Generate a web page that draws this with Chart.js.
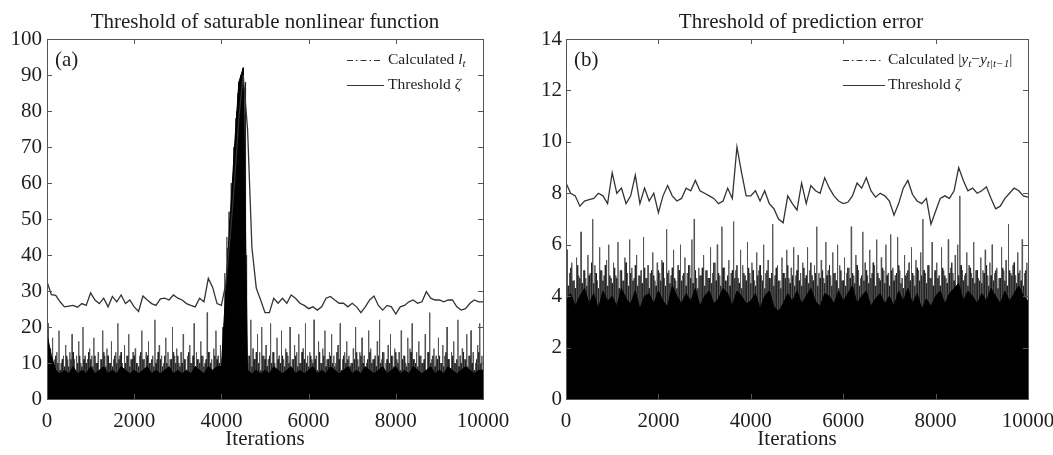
<!DOCTYPE html>
<html>
<head>
<meta charset="utf-8">
<script src="https://cdn.jsdelivr.net/npm/chart.js@4.4.0/dist/chart.umd.min.js"></script>
<style>
    html, body { margin: 0; padding: 0; background: #fff; }
    #wrap { position: relative; width: 1053px; height: 455px; }
    #boxA { position: absolute; left: 0; top: 0; width: 530px; height: 455px; }
    #boxB { position: absolute; left: 530px; top: 0; width: 523px; height: 455px; }
</style>
</head>
<body>
<div id="wrap">
    <div id="boxA"><canvas id="chartA"></canvas></div>
    <div id="boxB"><canvas id="chartB"></canvas></div>
</div>
<script>
// Iteration spacing of the sampled values
const thrStep = 100;
const spikeStep = 50;

// (a) threshold of saturable nonlinear function, one value per 100 iterations
const thresholdA = [
    32.6, 29, 28.8, 27, 25.6, 25.8, 26, 25.5, 26.5, 26,
    29.5, 27.5, 26.5, 28, 25.6, 28.5, 27, 28.9, 26.5, 27.5,
    25.6, 24.3, 28.6, 27.5, 26.5, 26, 27.8, 28, 27.5, 28.9,
    28, 27.5, 26.5, 26, 25.6, 28, 27, 33.5, 31, 26.5,
    26, 32, 45, 60, 78, 90, 75, 42, 30.8, 27.5,
    24, 24, 28, 26.6, 28, 26.6, 28.9, 28, 26.6, 26,
    25.1, 25.6, 24.7, 25.6, 28, 28.5, 27.5, 26.6, 26.6, 25.6,
    26.6, 25.6, 24, 25.6, 27.5, 28.6, 26, 24.7, 26, 25.6,
    23.6, 25.6, 26, 27, 27.5, 26.6, 27, 29.8, 28, 27.5,
    27.5, 27, 27.5, 27.5, 25.6, 24.7, 25.1, 26.6, 27.5, 27,
    27
];
// (a) top of the dense black band of calculated l_t
const bandA = [
    18, 12, 8, 7, 8, 7, 9, 7, 8, 7,
    9, 7, 8, 9, 7, 8, 7, 9, 8, 7,
    8, 7, 8, 9, 7, 8, 7, 8, 9, 7,
    8, 7, 8, 7, 9, 8, 7, 9, 8, 9,
    9, 30, 50, 70, 88, 92, 8, 7, 8, 7,
    8, 7, 9, 8, 7, 8, 9, 7, 8, 7,
    8, 9, 7, 8, 7, 9, 8, 7, 8, 9,
    7, 8, 7, 9, 8, 7, 8, 9, 7, 8,
    9, 7, 8, 7, 9, 8, 7, 8, 9, 7,
    8, 7, 9, 8, 7, 8, 9, 8, 7, 8,
    8
];
// (a) tall grey peaks of calculated l_t, at 25, 75, 125 ... iterations
const spikesA = [
    21, 14, 17, 11, 13, 19, 10, 12, 15, 11,
    13, 18, 11, 12, 16, 10, 20, 12, 11, 14,
    12, 17, 10, 13, 11, 19, 12, 14, 10, 16,
    11, 13, 21, 12, 10, 15, 12, 18, 11, 13,
    14, 10, 12, 19, 11, 13, 16, 10, 12, 22,
    11, 15, 12, 10, 17, 13, 11, 20, 12, 14,
    10, 13, 18, 11, 12, 15, 10, 21, 13, 11,
    16, 12, 10, 24, 13, 11, 14, 19, 12, 15,
    20, 35, 45, 52, 60, 70, 78, 85, 88, 90,
    86, 40, 12, 22, 14, 11, 18, 13, 20, 12,
    15, 11, 21, 13, 10, 17, 12, 19, 11, 14,
    12, 20, 11, 15, 13, 18, 10, 14, 21, 12,
    13, 11, 22, 12, 16, 10, 14, 19, 11, 13,
    18, 12, 10, 15, 21, 11, 13, 16, 12, 10,
    14, 20, 11, 13, 17, 12, 10, 19, 14, 11,
    12, 16, 22, 11, 13, 10, 15, 18, 12, 14,
    11, 13, 19, 12, 10, 17, 14, 21, 11, 13,
    16, 12, 10, 18, 13, 24, 11, 14, 12, 17,
    10, 15, 12, 20, 11, 13, 16, 10, 22, 12,
    14, 11, 18, 12, 19, 13, 10, 15, 21, 12
];
// (a) short dark peaks just above the band, at 0, 50, 100 ... iterations
const darkA = [
    20, 13, 11, 9, 12, 10, 8, 11, 9, 12,
    9, 11, 13, 8, 10, 12, 9, 11, 10, 13,
    11, 9, 12, 10, 8, 11, 13, 9, 12, 10,
    9, 12, 10, 11, 13, 8, 10, 12, 9, 11,
    12, 10, 9, 13, 11, 8, 12, 10, 11, 9,
    10, 13, 11, 9, 12, 10, 8, 11, 13, 10,
    12, 9, 10, 11, 8, 13, 10, 12, 9, 11,
    10, 12, 9, 11, 13, 10, 8, 12, 11, 10,
    10, 20, 30, 42, 50, 60, 70, 80, 88, 90,
    92, 88, 10, 12, 9, 11, 13, 10, 8, 12,
    11, 9, 12, 10, 13, 8, 11, 10, 12, 9,
    13, 10, 8, 11, 12, 9, 10, 13, 11, 10,
    9, 12, 10, 11, 8, 13, 10, 12, 9, 11,
    12, 10, 9, 13, 11, 8, 12, 10, 11, 9,
    10, 11, 13, 9, 12, 10, 8, 11, 13, 10,
    11, 9, 12, 10, 13, 8, 11, 10, 12, 9,
    13, 10, 8, 11, 12, 9, 10, 13, 11, 10,
    9, 12, 10, 11, 8, 13, 10, 12, 9, 11,
    12, 10, 9, 13, 11, 8, 12, 10, 11, 9,
    10, 13, 11, 9, 12, 10, 8, 11, 13, 10
];

// (b) threshold of prediction error
const thresholdB = [
    8.4, 8.0, 7.9, 7.5, 7.7, 7.75, 7.8, 8.0, 7.9, 7.6,
    8.8, 8.0, 8.2, 7.6, 7.9, 8.7, 7.6, 8.2, 7.7, 8.0,
    7.25, 7.9, 8.3, 7.9, 7.7, 7.8, 8.2, 8.1, 8.5, 8.1,
    8.0, 7.9, 7.8, 7.6, 7.7, 8.2, 7.8, 9.8, 8.8, 7.9,
    7.9, 8.1, 7.7, 8.1, 7.6, 7.4, 7.0, 6.85, 7.9, 7.6,
    7.35, 8.4, 7.6, 8.3, 8.1, 8.0, 8.6, 8.2, 7.9, 7.7,
    7.6, 7.65, 7.9, 8.4, 8.2, 8.6, 8.1, 7.85, 8.0, 7.9,
    7.7, 7.15, 7.6, 8.2, 8.5, 7.95, 7.7, 7.6, 7.8, 6.8,
    7.3, 7.8, 7.9, 7.8, 8.1, 9.0, 8.5, 8.1, 8.2, 8.0,
    8.1, 8.25, 7.8, 7.4, 7.5, 7.8, 8.0, 8.2, 8.1, 7.9,
    7.85
];
const bandB = [
    3.8, 4.1, 3.6, 4.0, 4.3, 3.7, 4.1, 3.5, 4.2, 3.8,
    4.0, 3.6, 4.3, 3.9, 3.7, 4.2, 3.5, 4.0, 4.1, 3.7,
    4.2, 3.8, 3.6, 4.4, 4.0, 3.7, 4.1, 3.8, 4.3, 3.6,
    4.0, 4.2, 3.7, 3.9, 4.3, 4.1, 3.6, 4.2, 4.0, 3.7,
    3.8, 4.1, 3.5, 4.0, 4.2, 3.6, 3.4, 3.7, 4.1, 3.8,
    4.2, 3.7, 4.0, 4.3, 3.8, 3.6, 4.1, 4.0, 3.7, 4.2,
    3.8, 4.1, 4.4, 3.7, 4.0, 4.2, 3.6, 3.9, 4.1, 3.7,
    4.0, 3.6, 4.2, 3.8, 4.3, 3.7, 4.1, 3.5, 3.9, 3.6,
    4.0, 4.2, 3.7, 4.1, 4.3, 4.5, 3.8, 4.2, 4.0, 3.7,
    4.1, 3.8, 4.3, 4.0, 3.7, 4.2, 3.8, 4.1, 4.4, 4.0,
    3.8
];
const spikesB = [
    5.8, 4.9, 5.3, 4.6, 5.5, 4.8, 6.5, 5.0, 4.7, 5.6,
    4.9, 7.0, 5.2, 4.6, 5.9, 5.0, 4.8, 5.4, 6.0, 4.7,
    5.3, 4.8, 6.1, 5.0, 4.6, 5.5, 4.9, 6.2, 5.1, 4.7,
    5.6, 4.8, 5.0, 6.3, 4.7, 5.2, 4.9, 5.7, 4.6, 5.3,
    4.9, 5.4, 4.7, 6.6, 5.0, 4.8, 5.8, 4.6, 5.2, 6.0,
    4.8, 5.5, 4.9, 5.2, 6.2, 7.0, 4.7, 5.1, 4.8, 5.6,
    5.0, 4.7, 5.9, 4.9, 5.3, 6.0, 4.8, 6.7, 5.1, 4.6,
    5.4, 4.9, 6.9, 5.0, 4.7, 5.8, 5.2, 4.8, 6.1, 4.9,
    5.3, 4.6, 5.7, 5.0, 4.8, 6.0, 4.9, 5.4, 4.7, 6.8,
    4.8, 5.2, 4.6, 5.5, 4.9, 5.8, 4.7, 5.1, 5.9, 4.8,
    5.6, 4.9, 5.3, 4.7, 5.9, 5.0, 4.8, 5.2, 6.7, 4.9,
    5.4, 4.7, 6.1, 5.0, 4.8, 5.7, 4.9, 6.0, 5.2, 4.6,
    5.5, 4.9, 5.1, 6.7, 4.8, 5.6, 5.0, 4.7, 6.5, 5.3,
    4.8, 5.8, 4.9, 5.2, 6.2, 4.7, 5.5, 5.0, 6.0, 4.9,
    6.4, 5.1, 4.8, 6.3, 5.0, 4.7, 5.6, 4.9, 5.3, 5.9,
    4.8, 5.4, 5.0, 5.7, 7.0, 4.9, 5.2, 4.7, 6.1, 5.0,
    5.3, 4.8, 5.9, 5.0, 4.7, 6.2, 5.1, 4.9, 5.6, 6.0,
    7.9, 5.0, 4.8, 5.7, 5.2, 4.9, 6.1, 5.0, 4.7, 5.5,
    5.0, 5.8, 4.8, 5.3, 6.0, 4.9, 5.1, 4.7, 5.9, 5.0,
    5.4, 6.8, 4.9, 5.2, 4.8, 5.7, 5.0, 6.2, 4.9, 5.3
];
const darkB = [
    4.9, 4.4, 5.1, 4.6, 4.3, 5.2, 4.7, 4.5, 5.0, 4.4,
    4.8, 5.3, 4.5, 4.9, 4.3, 5.0, 4.6, 5.2, 4.4, 4.8,
    4.5, 5.1, 4.7, 4.3, 5.0, 4.6, 5.3, 4.4, 4.9, 4.6,
    5.2, 4.4, 4.8, 4.5, 5.1, 4.7, 4.3, 5.0, 4.8, 4.4,
    5.0, 4.6, 5.3, 4.4, 4.9, 4.5, 5.1, 4.7, 4.3, 5.0,
    4.6, 4.9, 4.4, 5.2, 4.7, 4.5, 5.0, 4.3, 4.8, 5.1,
    4.4, 5.0, 4.7, 4.5, 5.3, 4.6, 4.9, 4.4, 5.1, 4.6,
    4.8, 4.4, 5.0, 4.7, 5.2, 4.5, 4.3, 4.9, 4.6, 5.1,
    4.5, 5.0, 4.4, 4.8, 5.2, 4.6, 4.3, 5.0, 4.7, 4.9,
    4.4, 5.1, 4.6, 4.3, 4.9, 4.7, 5.2, 4.5, 4.8, 4.4,
    5.0, 4.6, 4.4, 5.1, 4.8, 4.5, 5.3, 4.6, 4.9, 4.4,
    4.7, 5.0, 4.5, 4.8, 5.2, 4.4, 4.9, 4.6, 4.3, 5.0,
    4.6, 4.4, 5.1, 4.7, 4.9, 4.5, 5.2, 4.4, 4.8, 4.6,
    5.0, 4.5, 4.7, 5.3, 4.4, 4.9, 4.6, 5.1, 4.5, 4.8,
    4.4, 5.0, 4.6, 4.9, 5.2, 4.5, 4.3, 4.8, 5.0, 4.6,
    4.9, 4.4, 5.1, 4.6, 4.8, 5.0, 4.5, 5.2, 4.7, 4.4,
    5.0, 4.7, 4.4, 5.1, 4.8, 4.5, 4.9, 5.3, 4.6, 4.4,
    4.8, 5.2, 4.6, 4.9, 4.4, 5.1, 4.7, 4.5, 5.0, 4.6,
    4.5, 4.9, 5.2, 4.4, 4.8, 4.6, 5.0, 4.3, 4.7, 5.1,
    4.6, 4.4, 5.0, 4.8, 5.3, 4.5, 4.9, 4.6, 4.4, 5.0
];

const xTicks = [0, 2000, 4000, 6000, 8000, 10000];
const serif = '"Liberation Serif", "Times New Roman", serif';
const ink = '#1e1e1e';

function toPoints(values, step) {
    return values.map((v, i) => ({ x: i * step, y: v }));
}

// narrow peaks: base, top, base for each value
function spikePoints(values, step, offset) {
    const pts = [];
    values.forEach((v, i) => {
        const xi = offset + i * step;
        pts.push({ x: xi - 7, y: 0 }, { x: xi, y: v }, { x: xi + 7, y: 0 });
    });
    return pts;
}

// text with italic / subscript pieces, drawn left to right
function drawRich(ctx, x, y, parts, size) {
    let cx = x;
    parts.forEach(p => {
        const fs = p.sub ? size * 0.72 : size;
        ctx.font = `${p.it ? 'italic ' : ''}${fs}px ${serif}`;
        ctx.fillText(p.t, cx, p.sub ? y + size * 0.28 : y);
        cx += ctx.measureText(p.t).width;
    });
}

const framePlugin = {
    id: 'frame',
    afterDatasetsDraw(chart, args, opts) {
        const { ctx, chartArea: a, scales } = chart;
        ctx.save();
        ctx.strokeStyle = '#555';
        ctx.lineWidth = 1;
        ctx.strokeRect(Math.round(a.left) + 0.5, Math.round(a.top) + 0.5,
            Math.round(a.width), Math.round(a.height));
        ctx.beginPath();
        scales.x.ticks.forEach(t => {
            const px = Math.round(scales.x.getPixelForValue(t.value)) + 0.5;
            ctx.moveTo(px, a.bottom); ctx.lineTo(px, a.bottom - 5);
            ctx.moveTo(px, a.top); ctx.lineTo(px, a.top + 5);
        });
        scales.y.ticks.forEach(t => {
            const py = Math.round(scales.y.getPixelForValue(t.value)) + 0.5;
            ctx.moveTo(a.left, py); ctx.lineTo(a.left + 5, py);
            ctx.moveTo(a.right, py); ctx.lineTo(a.right - 5, py);
        });
        ctx.stroke();

        ctx.fillStyle = ink;
        ctx.textBaseline = 'middle';

        // title over the plot box
        ctx.textAlign = 'center';
        ctx.font = `21px ${serif}`;
        ctx.fillText(opts.title, (a.left + a.right) / 2 + opts.titleShift, 22);
        ctx.textAlign = 'left';

        // panel letter
        ctx.fillText(opts.letter, a.left + 8, a.top + 21);

        // legend
        const sx0 = a.right - opts.sampleFrom, sx1 = a.right - opts.sampleTo;
        const tx = a.right - opts.textFrom;
        const y1 = a.top + 21, y2 = a.top + 46;
        ctx.strokeStyle = '#333';
        ctx.lineWidth = 1;
        ctx.setLineDash([6, 3, 1.5, 3]);
        ctx.beginPath(); ctx.moveTo(sx0, y1 + 0.5); ctx.lineTo(sx1, y1 + 0.5); ctx.stroke();
        ctx.setLineDash([]);
        ctx.beginPath(); ctx.moveTo(sx0, y2 + 0.5); ctx.lineTo(sx1 + 4, y2 + 0.5); ctx.stroke();
        drawRich(ctx, tx, y1, opts.calcLabel, 15.5);
        drawRich(ctx, tx, y2, [{ t: 'Threshold ' }, { t: 'ζ', it: true }], 15.5);
        ctx.restore();
    }
};

function makeChart(id, cfg) {
    return new Chart(document.getElementById(id), {
        type: 'line',
        data: {
            datasets: [
                {
                    label: 'Threshold',
                    data: toPoints(cfg.threshold, thrStep),
                    borderColor: '#333',
                    borderWidth: 1.3,
                    pointRadius: 0,
                    order: 0,
                },
                {
                    label: 'Calculated band',
                    data: toPoints(cfg.band, thrStep),
                    borderColor: '#000',
                    backgroundColor: '#000',
                    borderWidth: 1,
                    fill: 'origin',
                    pointRadius: 0,
                    order: 1,
                },
                {
                    label: 'Calculated dark peaks',
                    data: spikePoints(cfg.dark, spikeStep, 0),
                    borderColor: '#222',
                    borderWidth: 1,
                    pointRadius: 0,
                    order: 2,
                },
                {
                    label: 'Calculated peaks',
                    data: spikePoints(cfg.spikes, spikeStep, spikeStep / 2),
                    borderColor: '#555',
                    borderWidth: 1,
                    pointRadius: 0,
                    order: 3,
                },
            ],
        },
        options: {
            responsive: true,
            maintainAspectRatio: false,
            animation: false,
            layout: { padding: { left: 0, right: cfg.padRight, top: 39, bottom: 0 } },
            plugins: {
                legend: { display: false },
                tooltip: { enabled: false },
                title: { display: false },
                frame: cfg.frame,
            },
            scales: {
                x: {
                    type: 'linear',
                    min: 0,
                    max: 10000,
                    afterBuildTicks: s => { s.ticks = xTicks.map(v => ({ value: v })); },
                    grid: { display: false, drawTicks: false },
                    border: { display: false },
                    ticks: {
                        color: ink,
                        font: { family: serif, size: 21 },
                        padding: 10,
                        maxRotation: 0,
                        autoSkip: false,
                        callback: v => String(v),
                    },
                    title: {
                        display: true,
                        text: 'Iterations',
                        color: ink,
                        font: { family: serif, size: 21 },
                        padding: { top: 0, bottom: 3 },
                    },
                    afterFit: s => {
                        s.height = 56;
                        s.paddingLeft = 0;
                        s.paddingRight = 0;
                    },
                },
                y: {
                    type: 'linear',
                    min: 0,
                    max: cfg.yMax,
                    grid: { display: false, drawTicks: false },
                    border: { display: false },
                    ticks: {
                        stepSize: cfg.yStep,
                        color: ink,
                        font: { family: serif, size: 21 },
                        padding: cfg.yPad,
                        callback: v => String(v),
                    },
                    afterFit: s => { s.width = cfg.yWidth; },
                },
            },
        },
        plugins: [framePlugin],
    });
}

makeChart('chartA', {
    threshold: thresholdA,
    band: bandA,
    spikes: spikesA,
    dark: darkA,
    yMax: 100,
    yStep: 10,
    yWidth: 47,
    yPad: 5,
    padRight: 47,
    frame: {
        title: 'Threshold of saturable nonlinear function',
        titleShift: 0,
        letter: '(a)',
        sampleFrom: 136, sampleTo: 103, textFrom: 95,
        calcLabel: [{ t: 'Calculated ' }, { t: 'l', it: true }, { t: 't', it: true, sub: true }],
    },
});

makeChart('chartB', {
    threshold: thresholdB,
    band: bandB,
    spikes: spikesB,
    dark: darkB,
    yMax: 14,
    yStep: 2,
    yWidth: 36,
    yPad: 4,
    padRight: 25,
    frame: {
        title: 'Threshold of prediction error',
        titleShift: 4,
        letter: '(b)',
        sampleFrom: 185, sampleTo: 147, textFrom: 140,
        calcLabel: [
            { t: 'Calculated |' }, { t: 'y', it: true }, { t: 't', it: true, sub: true },
            { t: '−' }, { t: 'y', it: true }, { t: 't|t−1', it: true, sub: true }, { t: '|' },
        ],
    },
});
</script>
</body>
</html>
